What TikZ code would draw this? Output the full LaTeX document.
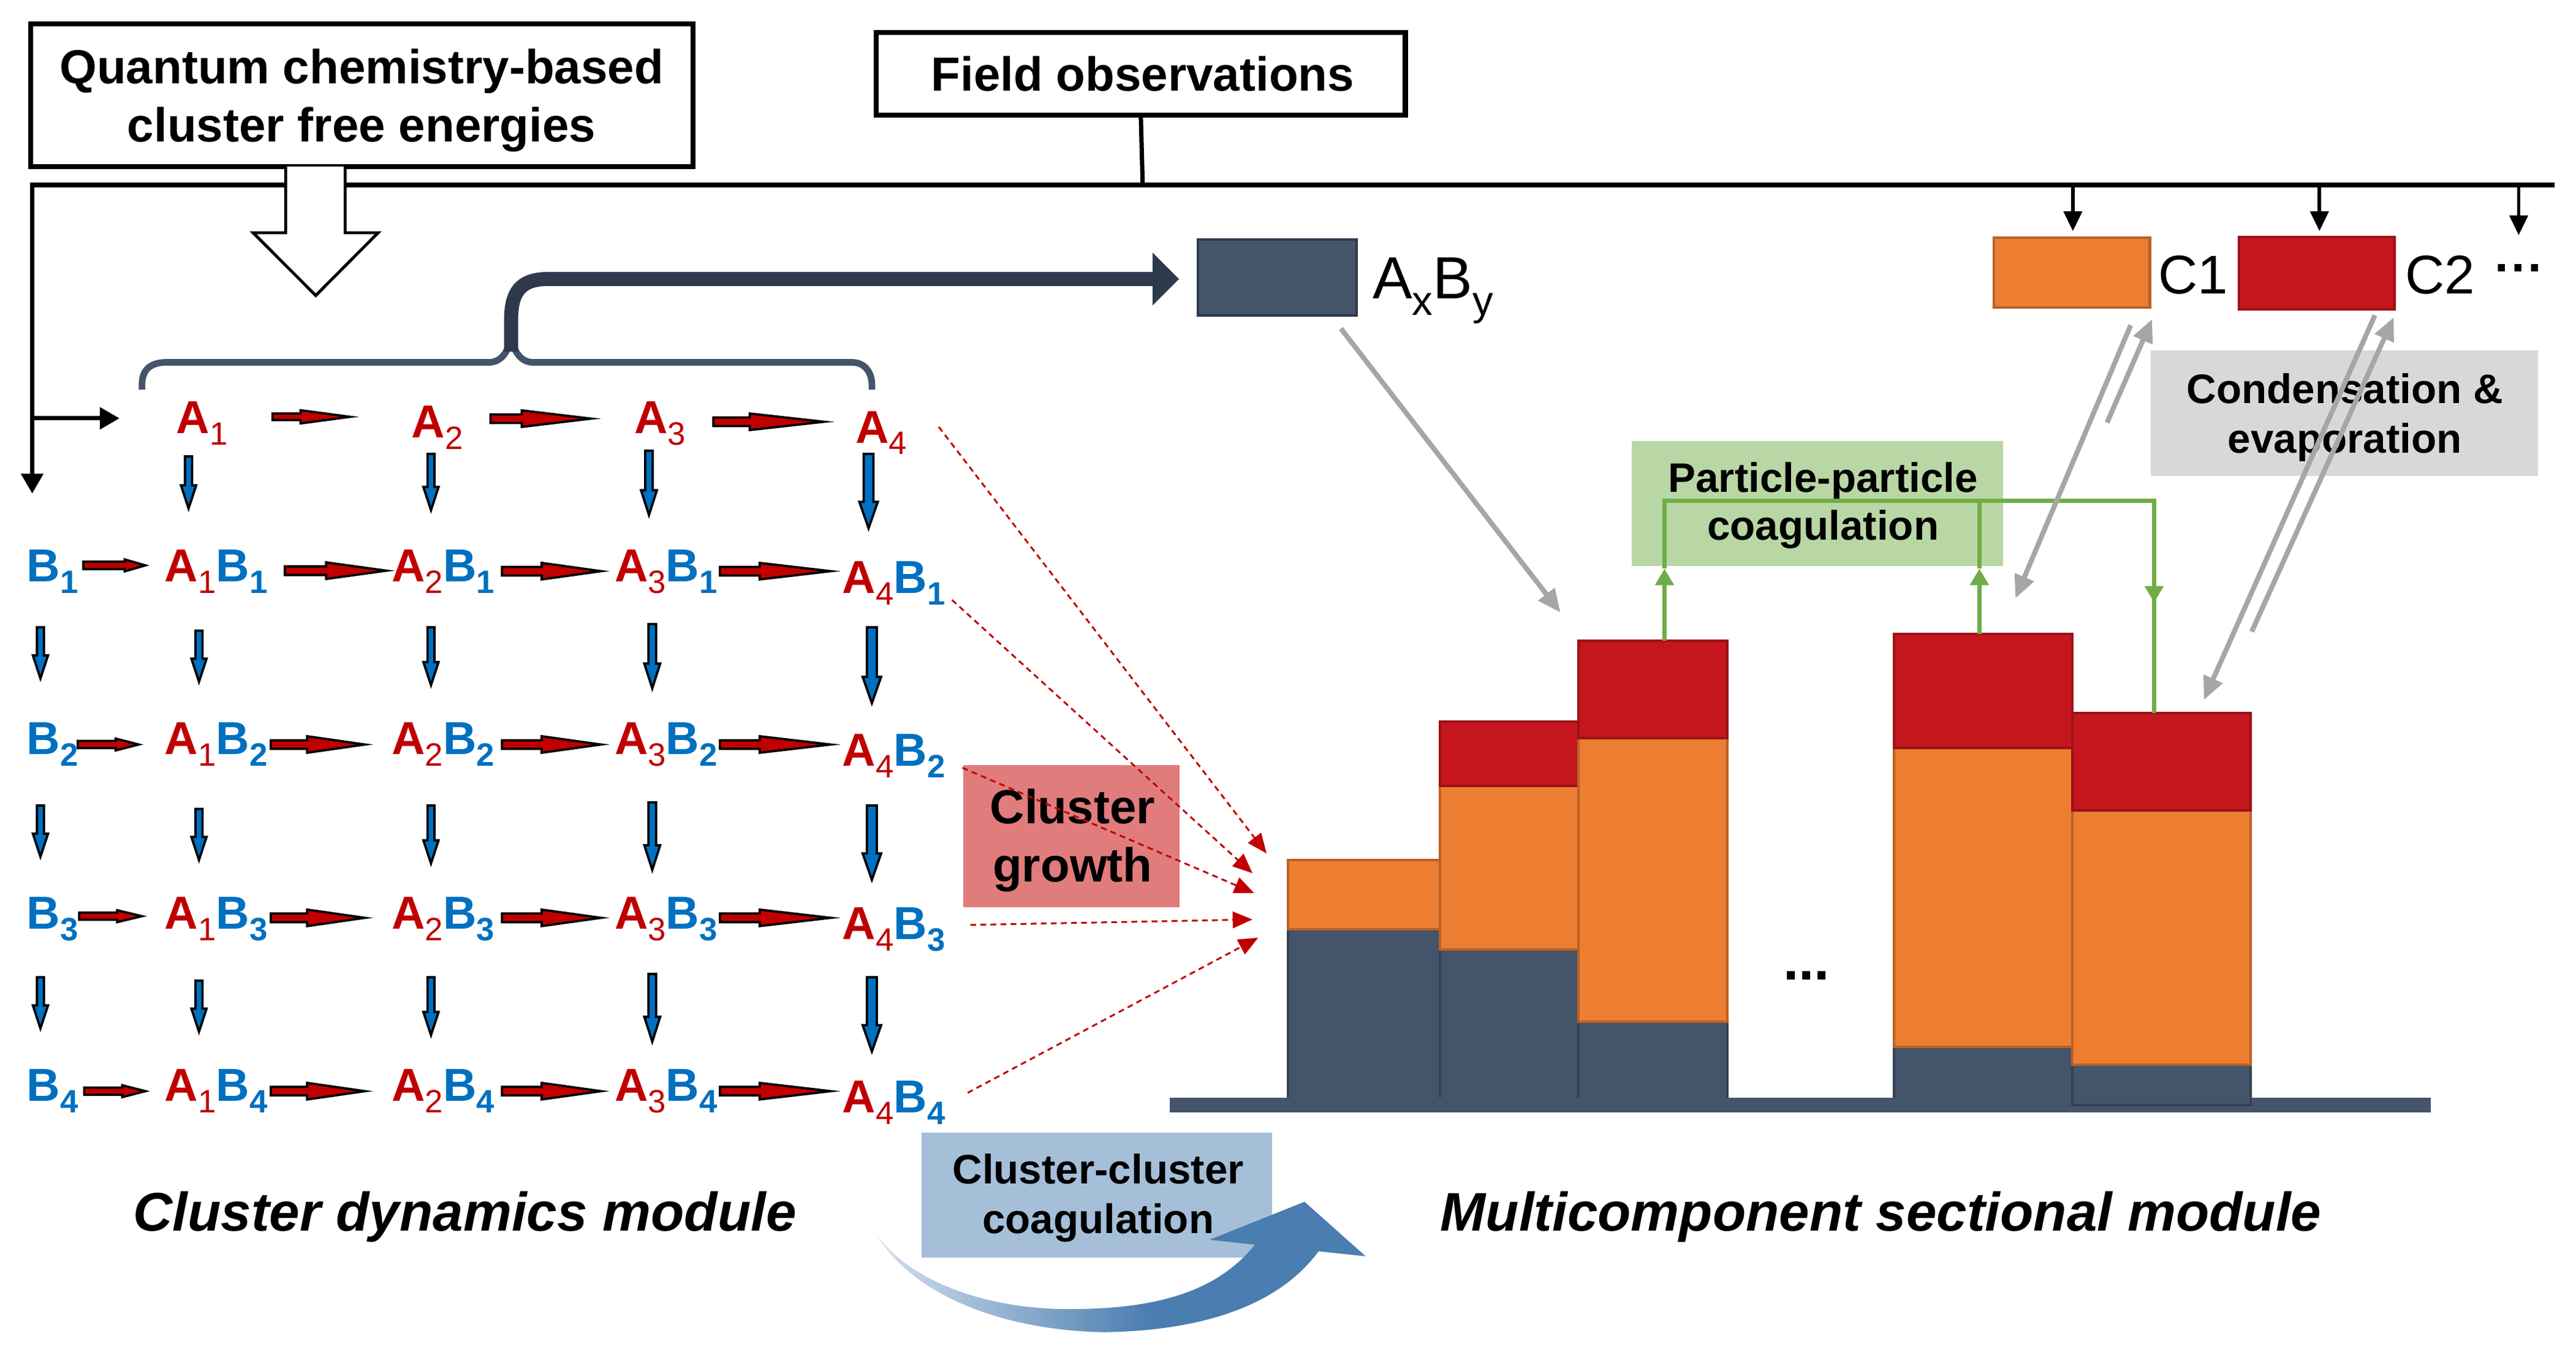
\documentclass[tikz,border=0pt]{standalone}
\usepackage{fontspec}
\setmainfont{Liberation Sans}
\usetikzlibrary{arrows.meta}
\definecolor{navy}{HTML}{44546A}
\definecolor{navyD}{HTML}{2E3A4C}
\definecolor{orng}{HTML}{ED7D31}
\definecolor{redb}{HTML}{C5161D}
\definecolor{cred}{HTML}{C00000}
\definecolor{cblue}{HTML}{0070C0}
\definecolor{grn}{HTML}{70AD47}
\definecolor{grnbox}{HTML}{B9D7A5}
\definecolor{grybox}{HTML}{D8D8D8}
\definecolor{gryarr}{HTML}{A6A6A6}
\definecolor{growbox}{HTML}{E07C7C}
\definecolor{ccbox}{HTML}{A5BFD9}
\definecolor{swR}{HTML}{4A7DB0}
\definecolor{swL}{HTML}{D3DFED}
\pgfdeclarehorizontalshading{swoosh}{100bp}{color(0bp)=(swL); color(25bp)=(swL); color(53bp)=(swR); color(100bp)=(swR)}
\newcommand\fs[2]{\fontsize{#1}{#2}\selectfont}
\newcommand\sbs[1]{\raisebox{-7pt}{\fontsize{19.6}{20}\selectfont #1}}
\newcommand\As[1]{\textcolor{cred}{A\sbs{\mdseries #1}}}
\newcommand\Bs[1]{\textcolor{cblue}{B\sbs{#1}}}
\newcommand\harr[6]{\filldraw[blkR] (#1,#3-#5) -- (#1+#4,#3-#5) -- (#1+#4,#3-#6) -- (#2-5,#3) -- (#1+#4,#3+#6) -- (#1+#4,#3+#5) -- (#1,#3+#5) -- cycle;}
\newcommand\varr[6]{\filldraw[blkB] (#1-#5,#2) -- (#1+#5,#2) -- (#1+#5,#3-#4) -- (#1+#6,#3-#4) -- (#1,#3-2) -- (#1-#6,#3-#4) -- (#1-#5,#3-#4) -- cycle;}
\newcommand\seg[5]{\filldraw[fill=#5, draw=#5!78!black, line width=1.5pt] (#1,#3) rectangle (#2,#4);}
\tikzset{
 obox/.style={draw=black, line width=3pt, fill=white, inner sep=0pt},
 lbl/.style={anchor=base west, inner sep=0pt, font=\fs{28}{30}\bfseries},
 txt/.style={anchor=base, inner sep=0pt},
 blkR/.style={fill=cred, draw=black, line width=1.4pt, line join=miter},
 blkB/.style={fill=cblue, draw=black, line width=1.4pt, line join=miter},
 dashR/.style={draw=cred, line width=1.1pt, dash pattern=on 3.5pt off 2.6pt, -{Triangle[length=12pt,width=10pt]}},
 garr/.style={draw=gryarr, line width=3pt, -{Triangle[length=14pt,width=12pt]}},
 blk/.style={draw=black, line width=2.6pt},
 gline/.style={draw=grn, line width=2.5pt},
 ghead/.style={draw=grn, line width=2.5pt, -{Triangle[length=10pt,width=11pt]}},
}
\begin{document}
\begin{tikzpicture}[x=1pt,y=-1pt]
\useasboundingbox (0,0) rectangle (1560,820.8);
\fill[white] (0,0) rectangle (1560,820.8);

% ---- top frame lines
\coordinate (hl) at (19.5,112);
\coordinate (hr) at (1547,112);
\draw[line width=3pt] (hl) -- (hr);
\coordinate (vend) at (19.5,299);
\coordinate (bstart) at (19.5,253.4);
\coordinate (bend) at (72.4,253.4);
\draw[blk, -{Triangle[length=12pt,width=13pt]}] (19.5,110.5) -- (vend);
\draw[blk, -{Triangle[length=12pt,width=13pt]}] (bstart) -- (bend);

% ---- boxes
\node[obox, minimum width=401.3pt, minimum height=86.4pt] (qbox) at (219.05,57.7) {};
\node[txt, font=\fs{29}{35}\bfseries] (qt1) at (219,50.6) {Quantum chemistry-based};
\node[txt, font=\fs{29}{35}\bfseries] (qt2) at (219,85.8) {cluster free energies};
\node[obox, minimum width=320.3pt, minimum height=50.3pt] (fbox) at (690.9,44.65) {};
\node[txt, font=\fs{29}{35}\bfseries] (ft) at (692,55) {Field observations};
\coordinate (fl) at (692,112);
\draw[blk] (fbox.south) -- (fl);

% hollow arrow
\filldraw[fill=white, draw=black, line width=1.8pt, line join=miter] (173,100.9) -- (173,141) -- (153.3,141) -- (191.2,179) -- (229,141) -- (209,141) -- (209,100.9);

% small down arrows
\coordinate (c1a) at (1255.3,140);
\coordinate (c2a) at (1404.6,140);
\coordinate (c3a) at (1525.3,142.5);
\draw[line width=2.1pt, -{Triangle[length=12pt,width=11pt]}] (1255.3,112) -- (c1a);
\draw[line width=2.1pt, -{Triangle[length=12pt,width=11pt]}] (1404.6,112) -- (c2a);
\draw[line width=2.1pt, -{Triangle[length=12pt,width=11pt]}] (1525.3,112) -- (c3a);

% ---- brace and thick arrow
\draw[navy, line width=4pt] (86,236) -- (86,233) .. controls (86,224) and (91,219.5) .. (101,219.5) -- (296,219.5) .. controls (303,219.5) and (307,214) .. (308.8,207);
\draw[navy, line width=4pt] (310.2,207) .. controls (312,214) and (316,219.5) .. (323,219.5) -- (516,219.5) .. controls (524,219.5) and (528,226) .. (528,233) -- (528,236);
\draw[navyD, line width=8.5pt] (309.5,213) -- (309.5,194) .. controls (309.5,177) and (315,169) .. (332,169) -- (699,169);
\fill[navyD] (698,153) -- (714,169) -- (698,185) -- cycle;

% AxBy and C boxes
\node[draw=navyD, fill=navy, line width=1.5pt, minimum width=96pt, minimum height=46pt, inner sep=0pt] (axby) at (773.5,168) {};
\node[anchor=base west, inner sep=0pt, font=\fs{36}{40}] (axbyt) at (831,181) {A\raisebox{-10pt}{\fs{25}{26}x}B\raisebox{-10pt}{\fs{25}{26}y}};
\node[draw=orng!78!black, fill=orng, line width=1.5pt, minimum width=94.5pt, minimum height=42.3pt, inner sep=0pt] (c1) at (1254.65,165.15) {};
\node[draw=redb!78!black, fill=redb, line width=1.5pt, minimum width=94pt, minimum height=43.7pt, inner sep=0pt] (c2) at (1403,165.55) {};
\node[anchor=base west, inner sep=0pt, font=\fs{33}{36}] (c1t) at (1307,178) {C1};
\node[anchor=base west, inner sep=0pt, font=\fs{33}{36}] (c2t) at (1456.5,178) {C2};
\node[anchor=base west, inner sep=0pt, font=\fs{30}{32}\bfseries] (dots1) at (1510.5,172.5) {···};

% ---- cluster labels
\node[lbl] (a1) at (106.6,262.7) {\As{1}};
\node[lbl] (a2) at (249,265) {\As{2}};
\node[lbl] (a3) at (384,262.5) {\As{3}};
\node[lbl] (a4) at (518,268.3) {\As{4}};
\foreach \r/\y/\yy in {1/352.5/359.5, 2/457/464, 3/562.6/569, 4/667/674}{
  \node[lbl] (b\r) at (16,\y) {\Bs{\r}};
  \node[lbl] (a1b\r) at (99.5,\y) {\As{1}\Bs{\r}};
  \node[lbl] (a2b\r) at (237,\y) {\As{2}\Bs{\r}};
  \node[lbl] (a3b\r) at (372,\y) {\As{3}\Bs{\r}};
  \node[lbl] (a4b\r) at (510,\yy) {\As{4}\Bs{\r}};
}

% horizontal red block arrows
\harr{165}{217}{252.5}{17}{2.0}{4.0}
\harr{297}{363}{253.6}{19}{2.6}{5.0}
\harr{432}{504}{255.5}{22}{2.6}{5.0}
\harr{50.5}{93}{342.5}{25}{2.2}{3.6}
\harr{172.5}{239}{345.7}{25}{2.6}{5.0}
\harr{304}{369}{346}{24}{2.6}{5.0}
\harr{436}{508}{346}{24}{2.6}{5.0}
\harr{47}{89}{451}{23}{2.2}{3.6}
\harr{164}{226}{451}{22}{2.6}{5.0}
\harr{304}{369}{451}{24}{2.6}{5.0}
\harr{436}{508}{451}{24}{2.6}{5.0}
\harr{48}{91}{555}{23}{2.2}{3.6}
\harr{164}{226}{556}{22}{2.6}{5.0}
\harr{304}{369}{556}{24}{2.6}{5.0}
\harr{436}{508}{556}{24}{2.6}{5.0}
\harr{51}{93}{661}{23}{2.2}{3.6}
\harr{164}{226}{661}{22}{2.6}{5.0}
\harr{304}{369}{661}{24}{2.6}{5.0}
\harr{436}{508}{661}{24}{2.6}{5.0}

% vertical blue block arrows
\varr{114.2}{276.5}{310}{16}{2.1}{4.6}
\varr{261}{275}{311}{16}{2.1}{4.6}
\varr{393}{273}{314}{17}{2.3}{4.8}
\varr{526}{275}{322}{18}{3.0}{5.6}
\foreach \ya/\yb/\yc/\yd/\ye/\yf in {380/413/415/417/419/428, 488/521/523/525/529/535, 592/625/627/629/633/639}{
  \varr{24.5}{\ya}{\yb}{16}{2.1}{4.6}
  \varr{120.5}{\ya+2}{\yc}{16}{2.1}{4.6}
  \varr{261}{\ya}{\yd}{16}{2.1}{4.6}
  \varr{395}{\ya-2}{\ye}{17}{2.3}{4.8}
  \varr{528}{\ya}{\yf}{18}{3.0}{5.6}
}

% ---- cluster growth box
\node[fill=growbox, minimum width=131pt, minimum height=86.3pt, inner sep=0pt] (grow) at (648.75,506.45) {};
\node[txt, font=\fs{29}{35}\bfseries] (gt1) at (649.5,499) {Cluster};
\node[txt, font=\fs{29}{35}\bfseries] (gt2) at (649.5,534) {growth};

% dashed arrows
\coordinate (d1s) at (568.5,258.6); \coordinate (d1e) at (767,517);
\coordinate (d2s) at (576.5,363.4); \coordinate (d2e) at (758.5,529);
\coordinate (d3s) at (582.8,465.1); \coordinate (d3e) at (759.5,541);
\coordinate (d4s) at (587.6,560.3); \coordinate (d4e) at (758.5,557);
\coordinate (d5s) at (586,662);     \coordinate (d5e) at (762,568);
\foreach \i in {1,...,5}{\draw[dashR] (d\i s) -- (d\i e);}

% ---- histogram
\seg{780}{872}{563}{667}{navy}
\seg{780}{872}{521}{563}{orng}
\seg{872}{956}{575}{667}{navy}
\seg{872}{956}{476}{575}{orng}
\seg{872}{956}{437}{476}{redb}
\seg{956}{1046}{619}{667}{navy}
\seg{956}{1046}{447}{619}{orng}
\seg{956}{1046}{388}{447}{redb}
\seg{1147}{1255}{634}{667}{navy}
\seg{1147}{1255}{453}{634}{orng}
\seg{1147}{1255}{384}{453}{redb}
\fill[navy] (708.5,665) rectangle (1472,674);
\seg{1255}{1363}{645}{669.5}{navy}
\seg{1255}{1363}{491}{645}{orng}
\seg{1255}{1363}{432}{491}{redb}
\node[txt, font=\fs{34}{36}\bfseries] (hdots) at (1094,593.5) {...};

% ---- particle coagulation
\node[fill=grnbox, minimum width=225pt, minimum height=76pt, inner sep=0pt] (pbox) at (1100.5,305) {};
\node[txt, font=\fs{25}{29}\bfseries] (pt1) at (1104,298) {Particle-particle};
\node[txt, font=\fs{25}{29}\bfseries] (pt2) at (1104,327) {coagulation};
\coordinate (g1b) at (1008,388); \coordinate (g1m) at (1008,344.5); \coordinate (g1t) at (1008,303.4);
\coordinate (g2b) at (1198.7,384); \coordinate (g2m) at (1198.7,344.5); \coordinate (g2t) at (1198.7,303.4);
\coordinate (g3t) at (1304.5,303.4); \coordinate (g3m) at (1304.5,365); \coordinate (g3b) at (1304.5,432);
\draw[gline] (g1m) -- (g1t) -- (g3t) -- (g3m) -- (g3b);
\draw[gline] (g2m) -- (g2t);
\draw[ghead] (g1b) -- (g1m);
\draw[ghead] (g2b) -- (g2m);
\draw[ghead] (g3t) -- (g3m);

% ---- condensation
\node[fill=grybox, minimum width=234.6pt, minimum height=76pt, inner sep=0pt] (cbox) at (1419.7,250.2) {};
\node[txt, font=\fs{25}{30}\bfseries] (ct1) at (1420,244.2) {Condensation \&};
\node[txt, font=\fs{25}{30}\bfseries] (ct2) at (1420,274.5) {evaporation};

% gray arrows
\coordinate (x1s) at (812,199);      \coordinate (x1e) at (945,371);
\coordinate (x2s) at (1276,256);     \coordinate (x2e) at (1303.3,193.3);
\coordinate (x3s) at (1290.3,197);   \coordinate (x3e) at (1220.5,362.5);
\coordinate (x4s) at (1438.2,191);   \coordinate (x4e) at (1334.6,424);
\coordinate (x5s) at (1363.6,382.6); \coordinate (x5e) at (1449.6,192.2);
\foreach \i in {1,...,5}{\draw[garr] (x\i s) -- (x\i e);}

% ---- cluster-cluster coagulation
\node[fill=ccbox, minimum width=212.4pt, minimum height=75.7pt, inner sep=0pt] (ccb) at (664.2,723.85) {};
\node[txt, font=\fs{25}{30}\bfseries] (cct1) at (665,717) {Cluster-cluster};
\node[txt, font=\fs{25}{30}\bfseries] (cct2) at (665,747) {coagulation};
\shade[shading=swoosh] (531,748) .. controls (553,785) and (608,806) .. (669,807)
  .. controls (730,806) and (775,790) .. (798.5,758) -- (827,761) -- (790,728) -- (732.5,751) -- (760,754)
  .. controls (735,785) and (695,793) .. (647,793) .. controls (595,793) and (550,775) .. (531,748) -- cycle;

% ---- titles
\node[txt, font=\fs{33}{36}\bfseries\itshape] (t1) at (281.5,745.6) {Cluster dynamics module};
\node[txt, font=\fs{33}{36}\bfseries\itshape] (t2) at (1139,745.6) {Multicomponent sectional module};
\end{tikzpicture}
\end{document}
